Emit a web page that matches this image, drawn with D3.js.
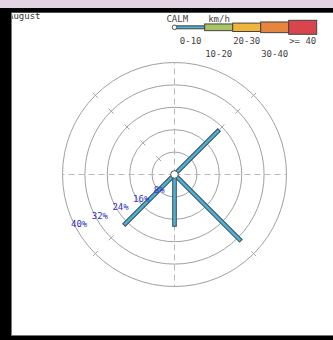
<!DOCTYPE html>
<html>
<head>
<meta charset="utf-8">
<script src="https://cdn.jsdelivr.net/npm/d3@7/dist/d3.min.js"></script>
<style>
  html, body { margin: 0; padding: 0; background: #fff; }
  svg { display: block; }
  text { font-family: "DejaVu Sans Mono", "Liberation Mono", monospace; font-size: 9px; }
</style>
</head>
<body>
<svg id="chart" width="333" height="340"></svg>
<script>
// Monthly wind rose: share of hours per direction, coloured by speed band
const month = "August";
const compass = ["N","NNE","NE","ENE","E","ESE","SE","SSE","S","SSW","SW","WSW","W","WNW","NW","NNW"];
const directions = ["NE", "SE", "S", "SW"];
const shares0to10 = [22.5, 33.5, 18.5, 25.5];   // % of time, 0-10 km/h
const ringTicks = [8, 16, 24, 32, 40];           // % rings
const speedBands = ["0-10", "10-20", "20-30", "30-40", ">= 40"];
const bandColors = ["#4fb0d2", "#aac366", "#f1b53c", "#e7843f", "#d9454c"];
const unitLabel = "km/h";
const calmLabel = "CALM";

const svg = d3.select("#chart");
const W = 333, H = 340;
const cx = 174.5, cy = 174.5, R = 112;

svg.append("rect").attr("width", W).attr("height", H).attr("fill", "#fff");

// scales
const r = d3.scaleLinear().domain([0, d3.max(ringTicks)]).range([0, R]);
const angle = d3.scalePoint().domain(compass).range([0, 360 - 360 / compass.length]);
const toXY = (deg, rad) => {
  const a = deg * Math.PI / 180;
  return [cx + rad * Math.sin(a), cy - rad * Math.cos(a)];
};

const g = svg.append("g");

// rings
g.selectAll("circle.ring").data(ringTicks).join("circle")
  .attr("class", "ring")
  .attr("cx", cx).attr("cy", cy).attr("r", d => r(d))
  .attr("fill", "none").attr("stroke", "#a0a0a0").attr("stroke-width", 1);

// N-S and E-W axes
["N", "E", "S", "W"].forEach(d => {
  const [x2, y2] = toXY(angle(d), R);
  g.append("line").attr("x1", cx).attr("y1", cy).attr("x2", x2).attr("y2", y2)
    .attr("stroke", "#b8b8b8").attr("stroke-width", 1).attr("stroke-dasharray", "6,4");
});

// diagonal axes: short marks where they cross each ring
const ringGap = r(ringTicks[0]);
["NE", "SE", "SW", "NW"].forEach(d => {
  const [x2, y2] = toXY(angle(d), R + 3.5);
  g.append("line").attr("x1", cx).attr("y1", cy).attr("x2", x2).attr("y2", y2)
    .attr("stroke", "#a8a8a8").attr("stroke-width", 1)
    .attr("stroke-dasharray", `7,${ringGap - 7}`).attr("stroke-dashoffset", 3.5);
});

// spokes
const spokeW = 3.6;
g.selectAll("rect.spoke").data(directions.map((d, i) => ({ dir: d, v: shares0to10[i] })))
  .join("rect")
  .attr("class", "spoke")
  .attr("x", -spokeW / 2).attr("y", d => -r(d.v))
  .attr("width", spokeW).attr("height", d => r(d.v))
  .attr("transform", d => `translate(${cx},${cy}) rotate(${angle(d.dir)})`)
  .attr("fill", bandColors[0]).attr("stroke", "#36505c").attr("stroke-width", 1);

// calm circle
g.append("circle").attr("cx", cx).attr("cy", cy).attr("r", 3.8)
  .attr("fill", "#fff").attr("stroke", "#555").attr("stroke-width", 1);

// ring labels along WSW
g.selectAll("text.pct").data(ringTicks).join("text")
  .attr("class", "pct")
  .attr("x", d => toXY(angle("WSW"), r(d))[0])
  .attr("y", d => toXY(angle("WSW"), r(d))[1] + 10)
  .attr("fill", "#2d2dcc")
  .text(d => d + "%");

// legend
const lg = svg.append("g");
const legX0 = 176.7, legW = 28, legY = 27.3;
const bandH = [3, 6.7, 8.4, 10.7, 14];
lg.selectAll("rect.band").data(speedBands).join("rect")
  .attr("class", "band")
  .attr("x", (d, i) => legX0 + i * legW - (i === 0 ? 2 : 0))
  .attr("width", (d, i) => legW + (i === 0 ? 2 : 0))
  .attr("y", (d, i) => legY - bandH[i] / 2)
  .attr("height", (d, i) => bandH[i])
  .attr("fill", (d, i) => bandColors[i])
  .attr("stroke", "#444").attr("stroke-width", 1);
lg.append("circle").attr("cx", 174.5).attr("cy", legY).attr("r", 2.3)
  .attr("fill", "#fff").attr("stroke", "#555").attr("stroke-width", 1);
lg.selectAll("text.bandlbl").data(speedBands).join("text")
  .attr("class", "bandlbl")
  .attr("x", (d, i) => legX0 + i * legW + legW / 2)
  .attr("y", (d, i) => i % 2 === 0 ? 44 : 56.7)
  .attr("text-anchor", "middle").attr("fill", "#444")
  .text(d => d);
lg.append("text").attr("x", 177.3).attr("y", 21.5).attr("text-anchor", "middle")
  .attr("fill", "#444").text(calmLabel);
lg.append("text").attr("x", 219).attr("y", 21.5).attr("text-anchor", "middle")
  .attr("fill", "#444").text(unitLabel);

// month title
svg.append("text").attr("x", 8).attr("y", 19).attr("fill", "#333").text(month);

// panel frame
svg.append("rect").attr("x", 0).attr("y", 0).attr("width", W).attr("height", 8).attr("fill", "#e3d4e3");
svg.append("rect").attr("x", 0).attr("y", 8).attr("width", W).attr("height", 4.7).attr("fill", "#000");
svg.append("rect").attr("x", 0).attr("y", 8).attr("width", 11).attr("height", H - 8).attr("fill", "#000");
svg.append("rect").attr("x", 0).attr("y", 336).attr("width", W).attr("height", 4).attr("fill", "#000");
svg.append("line").attr("x1", 11.5).attr("y1", 12.7).attr("x2", 11.5).attr("y2", 336)
  .attr("stroke", "#777").attr("stroke-width", 1);
svg.append("line").attr("x1", 11).attr("y1", 335.5).attr("x2", W).attr("y2", 335.5)
  .attr("stroke", "#777").attr("stroke-width", 1);
</script>
</body>
</html>
